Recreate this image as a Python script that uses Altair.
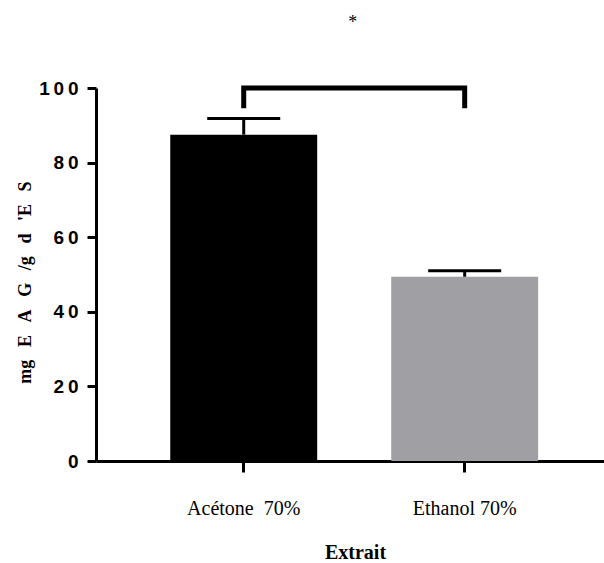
import altair as alt
import pandas as pd

# Extracts, mean content (mg EAG / g ES) and upper error (SEM)
extraits = ["Acétone\u00a0\u00a070%", "Ethanol 70%"]
moyennes = [87.5, 49.4]
erreurs = [4.3, 1.6]
couleurs = ["#000000", "#a09fa3"]

# Significance bracket joining the two extracts
bracket_extrait = [extraits[0], extraits[0], extraits[1], extraits[1]]
bracket_y = [94.6, 100.0, 100.0, 94.6]
bracket_ordre = [0, 1, 2, 3]
signif = "*"
signif_y = 116

y_ticks = [0, 20, 40, 60, 80, 100]

df = pd.DataFrame({
    "extrait": extraits,
    "moyenne": moyennes,
    "erreur": erreurs,
    "couleur": couleurs,
})
df_bracket = pd.DataFrame({
    "extrait": bracket_extrait,
    "y": bracket_y,
    "ordre": bracket_ordre,
})
df_star = pd.DataFrame({"extrait": [extraits[0]], "y": [signif_y], "txt": [signif]})

x_enc = alt.X(
    "extrait:N",
    sort=extraits,
    scale=alt.Scale(paddingInner=0.335, paddingOuter=0.317, align=0.53),
    axis=alt.Axis(
        title="Extrait",
        labelAngle=0,
        tickSize=11, tickWidth=3, tickColor="black",
        domainWidth=3, domainColor="black",
        labelFont="Liberation Serif", labelFontSize=20, labelColor="black",
        labelPadding=26,
        titleFont="Liberation Serif", titleFontSize=20, titleFontWeight="bold",
        titleColor="black", titleX=259, titleY=97, titleBaseline="alphabetic",
    ),
)

gap = "\u2002\u2009"
y_title = "mg" + gap + "E" + gap + "A" + gap + "G" + gap + "/g" + gap + "d" + gap + "'E" + gap + "S"

y_scale = alt.Scale(domain=[0, 100], nice=False)
y_axis = alt.Axis(
    values=y_ticks,
    grid=False,
    tickSize=9, tickWidth=3, tickColor="black",
    domainWidth=3, domainColor="black",
    labelFont="Liberation Sans", labelFontSize=19, labelFontWeight="bold",
    labelColor="black", labelPadding=9,
    labelExpr="join(split(datum.label, ''), '\u2009')",
    title=y_title,
    titleFont="Liberation Serif", titleFontSize=18, titleFontWeight="bold",
    titleColor="black", titleX=-66, titleY=194, titleAlign="center",
    titleBaseline="alphabetic", titleAngle=-90,
)

bars = alt.Chart(df).mark_bar().encode(
    x=x_enc,
    y=alt.Y("moyenne:Q", scale=y_scale, axis=y_axis),
    color=alt.Color("couleur:N", scale=None),
)

err = alt.Chart(df).transform_calculate(
    haut="datum.moyenne + datum.erreur"
).mark_rule(strokeWidth=3, color="black", opacity=1).encode(
    x=alt.X("extrait:N", sort=extraits),
    y=alt.Y("moyenne:Q"),
    y2="haut:Q",
)

caps = alt.Chart(df).transform_calculate(
    haut="datum.moyenne + datum.erreur"
).mark_tick(thickness=3, size=73, color="black", opacity=1, orient="horizontal").encode(
    x=alt.X("extrait:N", sort=extraits),
    y=alt.Y("haut:Q"),
)

bracket = alt.Chart(df_bracket).mark_line(
    strokeWidth=5, color="black", strokeJoin="miter", strokeCap="butt"
).encode(
    x=alt.X("extrait:N", sort=extraits),
    y=alt.Y("y:Q"),
    order="ordre:Q",
)

star = alt.Chart(df_star).mark_text(
    font="Liberation Serif", fontSize=18, dx=109, baseline="alphabetic", color="black"
).encode(
    x=alt.X("extrait:N", sort=extraits),
    y=alt.Y("y:Q"),
    text="txt:N",
)

chart = alt.layer(bars, err, caps, bracket, star).properties(
    width=508,
    height=373,
    autosize=alt.AutoSizeParams(type="none"),
    padding={"left": 96, "top": 88, "right": 0, "bottom": 102},
).configure_view(stroke=None)

chart.save("out.html", embed_options={"renderer": "svg", "actions": False})
